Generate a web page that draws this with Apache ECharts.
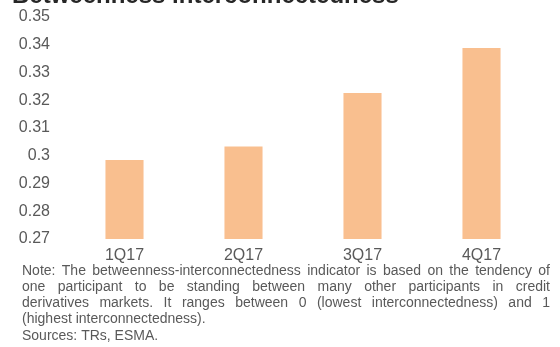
<!DOCTYPE html>
<html><head><meta charset="utf-8">
<script src="https://cdn.jsdelivr.net/npm/echarts@6/dist/echarts.min.js"></script>
<style>html,body{margin:0;padding:0;background:#fff}#c{width:560px;height:347px}</style>
</head><body><div id="c"></div>
<script>
const categories = ['1Q17', '2Q17', '3Q17', '4Q17'];
const values = [0.2985, 0.3033, 0.3226, 0.3388];
const yMin = 0.27, yMax = 0.35, yStep = 0.01;
const titleText = 'Betweenness interconnectedness';
const noteLines = [
  'Note: The betweenness-interconnectedness indicator is based on the tendency of',
  'one participant to be standing between many other participants in credit',
  'derivatives markets. It ranges between 0 (lowest interconnectedness) and 1',
  '(highest interconnectedness).',
  'Sources: TRs, ESMA.'
];
const justifyLine = [true, true, true, false, false];

const FONT = '"Liberation Sans", Arial, sans-serif';
const GRAY = '#595959';
const noteSize = 14;
const noteLeft = 22, noteRight = 550, noteTop = 271, noteStep = 16.2;

const cv = document.createElement('canvas').getContext('2d');
cv.font = noteSize + 'px ' + FONT;

const graphics = [{
  type: 'text', left: 12, top: -16,
  style: { text: titleText, font: 'bold 24px ' + FONT, fill: '#262626' }
}];
noteLines.forEach((line, i) => {
  const y = noteTop + i * noteStep;
  if (!justifyLine[i]) {
    graphics.push({ type: 'text', x: noteLeft, y: y,
      style: { text: line, font: noteSize + 'px ' + FONT, fill: GRAY, textVerticalAlign: 'middle', verticalAlign: 'middle' } });
    return;
  }
  const words = line.split(' ');
  const widths = words.map(w => cv.measureText(w).width);
  const total = widths.reduce((a, b) => a + b, 0);
  const gap = (noteRight - noteLeft - total) / (words.length - 1);
  let x = noteLeft;
  words.forEach((w, k) => {
    graphics.push({ type: 'text', x: x, y: y,
      style: { text: w, font: noteSize + 'px ' + FONT, fill: GRAY, textVerticalAlign: 'middle', verticalAlign: 'middle' } });
    x += widths[k] + gap;
  });
});

const chart = echarts.init(document.getElementById('c'), null, { renderer: 'canvas' });
chart.setOption({
  animation: false,
  backgroundColor: '#ffffff',
  grid: { left: 65, right: 19, top: 17, bottom: 108, containLabel: false },
  xAxis: {
    type: 'category', data: categories,
    axisLine: { show: false }, axisTick: { show: false },
    axisLabel: { color: GRAY, fontSize: 16, fontFamily: FONT, margin: 9 }
  },
  yAxis: {
    type: 'value', min: yMin, max: yMax, interval: yStep,
    splitLine: { show: false }, axisLine: { show: false }, axisTick: { show: false },
    axisLabel: { color: GRAY, fontSize: 16, fontFamily: FONT, margin: 15,
      formatter: v => String(+v.toFixed(2)) }
  },
  series: [{
    type: 'bar', data: values, barWidth: '32%',
    itemStyle: { color: '#F9BF8F' }
  }],
  graphic: graphics
});
</script></body></html>
